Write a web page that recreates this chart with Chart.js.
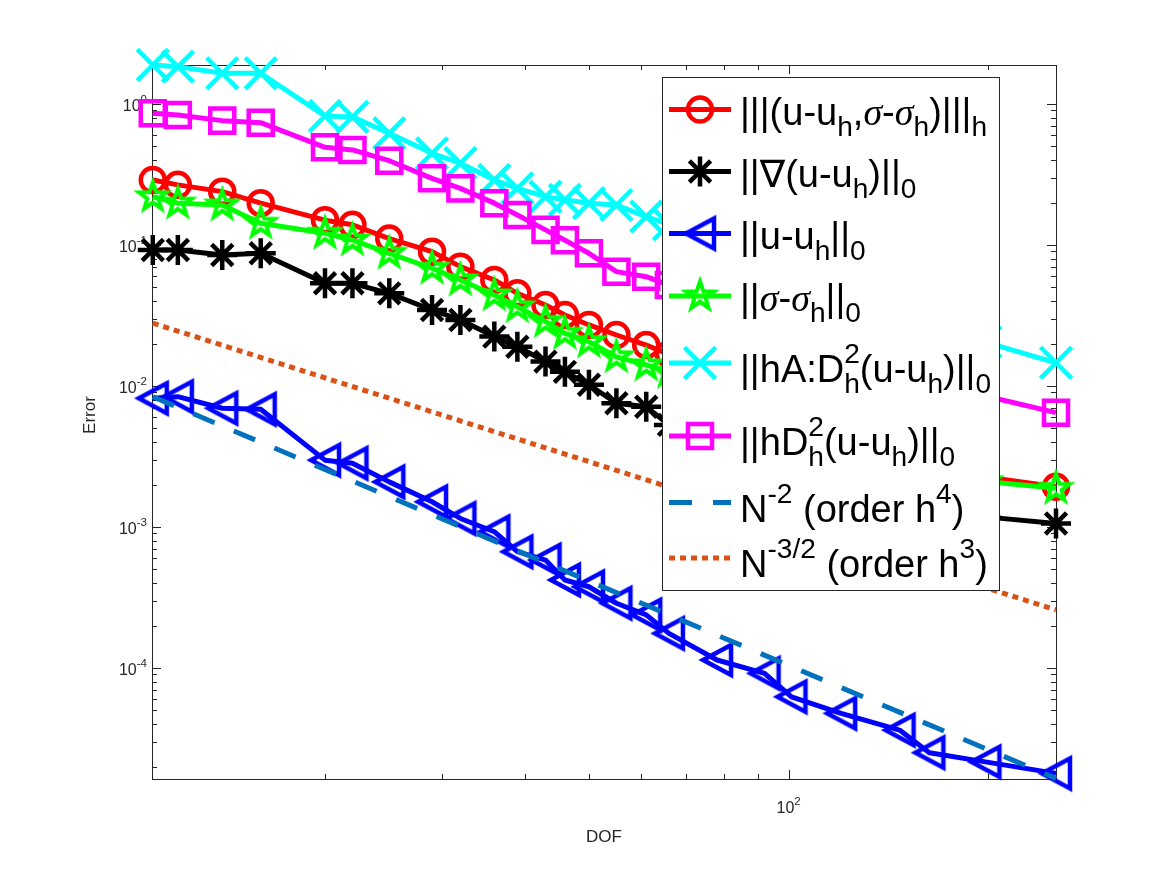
<!DOCTYPE html>
<html>
<head>
<meta charset="utf-8">
<title>Error vs DOF</title>
<script src="https://cdn.jsdelivr.net/npm/chart.js@4.4.0/dist/chart.umd.min.js"></script>
<style>
  html, body { margin: 0; padding: 0; background: #fff; }
  #wrap { width: 1167px; height: 875px; }
</style>
</head>
<body>
<div id="wrap"><canvas id="chart" width="1167" height="875"></canvas></div>
<script>
// degrees of freedom (x axis)
const dof = [11, 12, 14, 16, 20, 22, 25, 29, 32, 36, 39, 43, 46, 50, 55, 61, 66, 78, 92, 101, 120, 147, 163, 198, 253];

// error series
const errEnergy = [0.289, 0.267, 0.239, 0.198, 0.150, 0.139, 0.111, 0.0897, 0.0702, 0.0565, 0.0454, 0.0375, 0.0319, 0.0271, 0.0230, 0.0195, 0.0168, 0.0122, 0.0090, 0.0076, 0.0055, 0.0038, 0.0032, 0.00226, 0.00193];
const errGrad = [0.0922, 0.0922, 0.0849, 0.0873, 0.0535, 0.0535, 0.0454, 0.0346, 0.0294, 0.0224, 0.0190, 0.0149, 0.0126, 0.0102, 0.00754, 0.00713, 0.0053, 0.0041, 0.0031, 0.0026, 0.0021, 0.0016, 0.0014, 0.00118, 0.00106];
const errL2 = [0.00818, 0.00840, 0.00695, 0.00684, 0.00298, 0.00283, 0.00209, 0.00151, 0.00115, 0.000926, 0.000668, 0.000583, 0.000421, 0.000377, 0.000288, 0.000238, 0.000176, 0.000114, 9.17e-5, 6.25e-5, 4.77e-5, 3.63e-5, 2.51e-5, 2.16e-5, 1.79e-5];
const errSigma = [0.220, 0.198, 0.192, 0.1426, 0.121, 0.1085, 0.0873, 0.0684, 0.0565, 0.0442, 0.0365, 0.0286, 0.0236, 0.0206, 0.0161, 0.0141, 0.0125, 0.0094, 0.0071, 0.0060, 0.0045, 0.0032, 0.0028, 0.0021, 0.00188];
const errHAD2 = [1.89, 1.84, 1.65, 1.65, 0.822, 0.81, 0.62, 0.447, 0.38, 0.289, 0.252, 0.220, 0.209, 0.198, 0.192, 0.159, 0.140, 0.105, 0.080, 0.068, 0.052, 0.038, 0.032, 0.0205, 0.0146];
const errHD2 = [0.859, 0.836, 0.762, 0.737, 0.493, 0.472, 0.396, 0.297, 0.252, 0.198, 0.163, 0.128, 0.108, 0.0873, 0.0647, 0.0596, 0.052, 0.040, 0.030, 0.026, 0.020, 0.0146, 0.0125, 0.0085, 0.00647];

// reference slopes (end points)
const refX = [11, 253];
const refOrder4 = [0.0084, 1.65e-5];
const refOrder3 = [0.0279, 2.58e-4];

// legend labels (MATLAB tex markup)
const legendLabels = [
  '|||(u-u_{h},\\sigma-\\sigma_{h})|||_{h}',
  '||\\nabla(u-u_{h})||_{0}',
  '||u-u_{h}||_{0}',
  '||\\sigma-\\sigma_{h}||_{0}',
  '||hA:D^{2}_{h}(u-u_{h})||_{0}',
  '||hD^{2}_{h}(u-u_{h})||_{0}',
  'N^{-2} (order h^{4})',
  'N^{-3/2} (order h^{3})'
];

// axis ticks
const xTickValues = [100];
const xTickLabels = ['10^{2}'];
const yTickValues = [1e-4, 1e-3, 1e-2, 1e-1, 1];
const yTickLabels = ['10^{-4}', '10^{-3}', '10^{-2}', '10^{-1}', '10^{0}'];
const xTitle = 'DOF';
const yTitle = 'Error';

const SANS = '"Liberation Sans", Arial, Helvetica, "DejaVu Sans", sans-serif';
const SERIF = '"Liberation Serif", "DejaVu Serif", serif';
const AXIS_COLOR = '#262626';

// custom markers for '<' and 'p'
function makeMarker(size, color, lw, path) {
  const c = document.createElement('canvas');
  c.width = c.height = size;
  const g = c.getContext('2d');
  g.strokeStyle = color;
  g.lineWidth = lw;
  g.lineJoin = 'miter';
  g.miterLimit = 10;
  g.beginPath();
  path(g, size / 2, size / 2);
  g.closePath();
  g.stroke();
  return c;
}
const triLeft = makeMarker(46, '#0000ff', 4.5, (g, cx, cy) => {
  g.moveTo(cx - 14, cy);
  g.lineTo(cx + 14, cy - 15);
  g.lineTo(cx + 14, cy + 15);
});
const pentagram = makeMarker(42, '#00ff00', 4, (g, cx, cy) => {
  for (let k = 0; k < 10; k++) {
    const r = k % 2 === 0 ? 14.5 : 5.8;
    const a = -Math.PI / 2 + k * Math.PI / 5;
    const px = cx + r * Math.cos(a), py = cy + r * Math.sin(a);
    if (k === 0) g.moveTo(px, py); else g.lineTo(px, py);
  }
});

function series(label, values, color, style, radius, extra) {
  return Object.assign({
    label: label,
    data: dof.map((d, i) => ({ x: d, y: values[i] })),
    borderColor: color,
    borderWidth: 5,
    pointStyle: style,
    pointRadius: radius,
    pointBorderColor: color,
    pointBackgroundColor: 'rgba(0,0,0,0)',
    pointBorderWidth: 4.5,
    borderJoinStyle: 'round',
    tension: 0,
    clip: false
  }, extra || {});
}

function refLine(label, values, color, dash) {
  return {
    label: label,
    data: refX.map((d, i) => ({ x: d, y: values[i] })),
    borderColor: color,
    borderWidth: 5,
    borderDash: dash,
    borderCapStyle: 'butt',
    pointRadius: 0,
    tension: 0,
    clip: false
  };
}

const datasets = [
  series(legendLabels[0], errEnergy, '#ff0000', 'circle', 12),
  series(legendLabels[1], errGrad, '#000000', 'star', 15),
  series(legendLabels[2], errL2, '#0000ff', triLeft, 15),
  series(legendLabels[3], errSigma, '#00ff00', pentagram, 14),
  series(legendLabels[4], errHAD2, '#00ffff', 'crossRot', 22),
  series(legendLabels[5], errHD2, '#ff00ff', 'rect', 17),
  refLine(legendLabels[6], refOrder4, '#0072bd', [23, 21]),
  refLine(legendLabels[7], refOrder3, '#d95319', [6, 5])
];
// later series drawn on top, as in MATLAB
datasets.forEach((d, i) => { d.order = datasets.length - i; });

// tiny tex renderer: sub/sup, stacked sup+sub and a couple of symbols
const SYMBOLS = { sigma: ['σ', 'italic', SERIF], nabla: ['∇', '', '"DejaVu Sans", sans-serif'] };
function parseTex(str) {
  const items = [];
  let i = 0;
  const arg = () => {
    if (str[i] === '{') {
      const j = str.indexOf('}', i);
      const a = str.slice(i + 1, j);
      i = j + 1;
      return a;
    }
    return str[i++];
  };
  while (i < str.length) {
    const c = str[i];
    if (c === '^' || c === '_') {
      i++;
      const kind = c === '^' ? 'sup' : 'sub';
      const a = arg();
      const prev = items[items.length - 1];
      if (prev && (prev.kind === 'sup' || prev.kind === 'sub') && prev.kind !== kind) {
        items[items.length - 1] = {
          kind: 'stack',
          sup: kind === 'sub' ? prev.text : a,
          sub: kind === 'sub' ? a : prev.text
        };
      } else {
        items.push({ kind: kind, text: a });
      }
    } else if (c === '\\') {
      const m = /^\\([a-zA-Z]+)/.exec(str.slice(i));
      i += m[0].length;
      items.push({ kind: 'sym', name: m[1] });
    } else {
      let j = i;
      while (j < str.length && '^_\\'.indexOf(str[j]) < 0) j++;
      items.push({ kind: 'text', text: str.slice(i, j) });
      i = j;
    }
  }
  return items;
}

function drawTex(ctx, str, x, y, size, opts) {
  opts = opts || {};
  const dry = opts.dry;
  const small = size * (opts.scale || 0.72);
  const up = size * (opts.up || 0.5);
  const down = size * (opts.down || 0.3);
  const fMain = size + 'px ' + SANS;
  const fSmall = small + 'px ' + SANS;
  const x0 = x;
  ctx.textAlign = 'left';
  ctx.textBaseline = 'alphabetic';
  const put = (t, font, px, py) => {
    ctx.font = font;
    if (!dry) ctx.fillText(t, px, py);
    return ctx.measureText(t).width;
  };
  for (const it of parseTex(str)) {
    if (it.kind === 'text') {
      x += put(it.text, fMain, x, y);
    } else if (it.kind === 'sym') {
      const s = SYMBOLS[it.name];
      x += put(s[0], (s[1] ? s[1] + ' ' : '') + size + 'px ' + s[2], x, y);
    } else if (it.kind === 'sup') {
      x += put(it.text, fSmall, x, y - up);
    } else if (it.kind === 'sub') {
      x += put(it.text, fSmall, x, y + down);
    } else {
      const w1 = put(it.sup, fSmall, x, y - up);
      const w2 = put(it.sub, fSmall, x, y + down);
      x += Math.max(w1, w2);
    }
  }
  return x - x0;
}

// axes box, inward ticks and labels (MATLAB style)
const axesPlugin = {
  id: 'matlabAxes',
  beforeDatasetsDraw(chart) {
    const { ctx, chartArea: a, scales } = chart;
    const xs = scales.x, ys = scales.y;
    ctx.save();
    ctx.strokeStyle = AXIS_COLOR;
    ctx.lineWidth = 1;
    ctx.strokeRect(Math.round(a.left) + 0.5, Math.round(a.top) + 0.5,
      Math.round(a.right - a.left), Math.round(a.bottom - a.top));

    const tick = (x1, y1, x2, y2) => {
      ctx.beginPath(); ctx.moveTo(x1, y1); ctx.lineTo(x2, y2); ctx.stroke();
    };
    const yMin = ys.min, yMax = ys.max, xMin = xs.min, xMax = xs.max;
    for (let e = -6; e <= 1; e++) {
      for (let m = 1; m <= 9; m++) {
        const v = m * Math.pow(10, e);
        if (v < yMin || v > yMax) continue;
        const py = Math.round(ys.getPixelForValue(v)) + 0.5;
        const len = m === 1 ? 9 : 5;
        tick(a.left, py, a.left + len, py);
        tick(a.right, py, a.right - len, py);
      }
    }
    for (let e = 0; e <= 3; e++) {
      for (let m = 1; m <= 9; m++) {
        const v = m * Math.pow(10, e);
        if (v < xMin || v > xMax) continue;
        const px = Math.round(xs.getPixelForValue(v)) + 0.5;
        const len = m === 1 ? 9 : 5;
        tick(px, a.bottom, px, a.bottom - len);
        tick(px, a.top, px, a.top + len);
      }
    }

    ctx.fillStyle = AXIS_COLOR;
    const tf = 16;
    const tOpts = { up: 0.5, scale: 0.72 };
    yTickValues.forEach((v, i) => {
      const py = ys.getPixelForValue(v);
      const w = drawTex(ctx, yTickLabels[i], 0, 0, tf, Object.assign({ dry: true }, tOpts));
      drawTex(ctx, yTickLabels[i], a.left - 5 - w, py + 7, tf, tOpts);
    });
    xTickValues.forEach((v, i) => {
      const px = xs.getPixelForValue(v);
      const w = drawTex(ctx, xTickLabels[i], 0, 0, tf, Object.assign({ dry: true }, tOpts));
      drawTex(ctx, xTickLabels[i], px - w / 2, a.bottom + 34, tf, tOpts);
    });

    ctx.font = '17px ' + SANS;
    ctx.textAlign = 'center';
    ctx.textBaseline = 'alphabetic';
    ctx.fillText(xTitle, (a.left + a.right) / 2, 842);
    ctx.save();
    ctx.translate(95, 415);
    ctx.rotate(-Math.PI / 2);
    ctx.fillText(yTitle, 0, 0);
    ctx.restore();
    ctx.restore();
  }
};

// legend box drawn on top of the data
const legendBox = { left: 662, top: 77, right: 999, bottom: 590 };
const legendRowY = [109.5, 171.5, 233.5, 296, 363, 436, 502.5, 558];
const legendPlugin = {
  id: 'texLegend',
  afterDatasetsDraw(chart) {
    const ctx = chart.ctx;
    const b = legendBox;
    ctx.save();
    ctx.fillStyle = '#ffffff';
    ctx.fillRect(b.left, b.top, b.right - b.left, b.bottom - b.top);
    ctx.strokeStyle = AXIS_COLOR;
    ctx.lineWidth = 1;
    ctx.strokeRect(b.left + 0.5, b.top + 0.5, b.right - b.left, b.bottom - b.top);

    chart.data.datasets.forEach((ds, i) => {
      const y = legendRowY[i];
      ctx.save();
      ctx.strokeStyle = ds.borderColor;
      ctx.lineWidth = ds.borderWidth;
      ctx.lineCap = 'butt';
      ctx.setLineDash(ds.borderDash || []);
      ctx.beginPath();
      ctx.moveTo(669, y);
      ctx.lineTo(731, y);
      ctx.stroke();
      ctx.setLineDash([]);
      if (ds.pointRadius > 0) {
        ctx.fillStyle = 'rgba(0,0,0,0)';
        ctx.strokeStyle = ds.pointBorderColor;
        ctx.lineWidth = ds.pointBorderWidth;
        Chart.helpers.drawPoint(ctx, {
          pointStyle: ds.pointStyle, rotation: 0, radius: ds.pointRadius, borderWidth: ds.pointBorderWidth
        }, 700, y);
      }
      ctx.restore();
      ctx.fillStyle = '#000000';
      const hasSup = ds.label.indexOf('^') >= 0;
      drawTex(ctx, ds.label, 740, y + (hasSup ? 19 : 15), 38, { up: 0.5, down: 0.3, scale: 0.74 });
    });
    ctx.restore();
  }
};

new Chart(document.getElementById('chart').getContext('2d'), {
  type: 'line',
  data: { datasets: datasets },
  options: {
    responsive: false,
    devicePixelRatio: 1,
    animation: false,
    events: [],
    layout: { padding: { left: 0, right: 111, top: 65, bottom: 0 } },
    plugins: { legend: { display: false }, tooltip: { enabled: false } },
    scales: {
      x: {
        type: 'logarithmic',
        min: 10.97,
        max: 253,
        grid: { display: false },
        border: { display: false },
        ticks: { display: false },
        afterFit(s) { s.height = 96; }
      },
      y: {
        type: 'logarithmic',
        min: 1.633e-5,
        max: 1.89,
        grid: { display: false },
        border: { display: false },
        ticks: { display: false },
        afterFit(s) { s.width = 152; }
      }
    }
  },
  plugins: [axesPlugin, legendPlugin]
});
</script>
</body>
</html>
